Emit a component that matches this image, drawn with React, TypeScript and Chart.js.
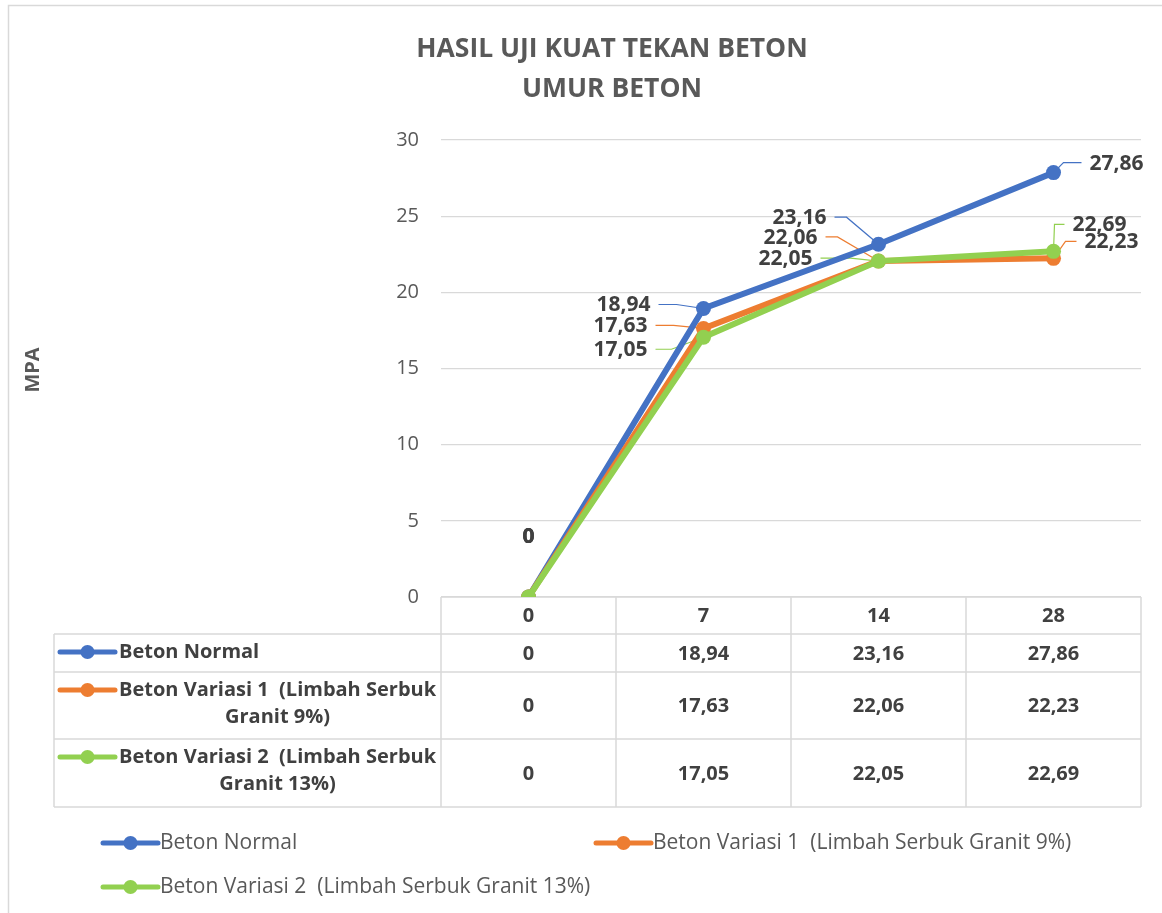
import React, { useEffect, useRef } from "react";
import { Chart, registerables } from "chart.js";

Chart.register(...registerables);

// ---------- data ----------
const categories = ["0", "7", "14", "28"];
const seriesNames = [
  "Beton Normal",
  "Beton Variasi 1  (Limbah Serbuk Granit 9%)",
  "Beton Variasi 2  (Limbah Serbuk Granit 13%)",
];
const betonNormal = [0, 18.94, 23.16, 27.86];
const betonVariasi1 = [0, 17.63, 22.06, 22.23];
const betonVariasi2 = [0, 17.05, 22.05, 22.69];
const yTickValues = [0, 5, 10, 15, 20, 25, 30];
const chartTitle = ["HASIL UJI KUAT TEKAN BETON", "UMUR BETON"];
const yAxisTitle = "MPA";

// ---------- styles ----------
const seriesValues = [betonNormal, betonVariasi1, betonVariasi2];
const colors = ["#4472C4", "#ED7D31", "#92D050"];
const FONT = "'Open Sans', 'Noto Sans', sans-serif";
const TITLE_FONT = "'Open Sans', 'Noto Sans', sans-serif";
const GRID = "#d9d9d9";
const DARK = "#404040";
const GREY = "#595959";

// label placement relative to point: [dx, dy, leaderLength]
const labelPlacement = [
  [[0, -60, 0], [-80, -3, 18], [-79, -26, 12], [63, -9, 18]],
  [[0, -60, 0], [-83, -2, 18], [-88, -23, 12], [58, -16, 11]],
  [[0, -60, 0], [-83, 13, 16], [-93, -2, 30], [46, -26, 10]],
];

const fmt = (v: number) =>
  Number.isInteger(v) ? String(v) : v.toFixed(2).replace(".", ",");

function wrap(ctx: CanvasRenderingContext2D, text: string, maxW: number) {
  const words = text.split(" ");
  const lines: string[] = [];
  let cur = "";
  for (let i = 0; i < words.length; i++) {
    const w = words[i];
    const test = cur === "" ? w : cur + " " + w;
    if (ctx.measureText(test).width > maxW && cur.trim() !== "") {
      lines.push(cur);
      cur = w;
    } else {
      cur = test;
    }
  }
  if (cur !== "") lines.push(cur);
  return lines;
}

function drawMarker(ctx: CanvasRenderingContext2D, x0: number, x1: number, y: number, color: string) {
  ctx.save();
  ctx.strokeStyle = color;
  ctx.lineWidth = 5;
  ctx.lineCap = "round";
  ctx.beginPath();
  ctx.moveTo(x0, y);
  ctx.lineTo(x1, y);
  ctx.stroke();
  ctx.fillStyle = color;
  ctx.beginPath();
  ctx.arc((x0 + x1) / 2, y, 7, 0, Math.PI * 2);
  ctx.fill();
  ctx.restore();
}

const excelPlugin = {
  id: "excelExtras",
  beforeDraw(chart: any) {
    const ctx: CanvasRenderingContext2D = chart.ctx;
    ctx.save();
    ctx.fillStyle = "#ffffff";
    ctx.fillRect(0, 0, chart.width, chart.height);
    // frame
    ctx.strokeStyle = GRID;
    ctx.lineWidth = 1.5;
    ctx.beginPath();
    ctx.moveTo(8.5, chart.height);
    ctx.lineTo(8.5, 5.5);
    ctx.lineTo(chart.width, 5.5);
    ctx.stroke();
    // title
    ctx.fillStyle = GREY;
    ctx.font = `bold 26.5px ${TITLE_FONT}`;
    ctx.textAlign = "center";
    ctx.textBaseline = "middle";
    ctx.fillText(chartTitle[0], 612, 49);
    ctx.fillText(chartTitle[1], 612, 89);
    // y-axis title
    ctx.save();
    ctx.translate(33, 370);
    ctx.rotate(-Math.PI / 2);
    ctx.font = `bold 20px ${FONT}`;
    ctx.fillText(yAxisTitle, 0, 0);
    ctx.restore();
    ctx.restore();
  },
  beforeDatasetsDraw(chart: any) {
    const ctx: CanvasRenderingContext2D = chart.ctx;
    const xs = chart.scales.x;
    const area = chart.chartArea;
    const n = categories.length;
    const colW = (area.right - area.left) / n;
    const tableLeft = 54;
    const rows = [area.bottom, 634, 672, 739, 807];
    ctx.save();
    ctx.strokeStyle = GRID;
    ctx.lineWidth = 1.5;
    // horizontal lines
    ctx.beginPath();
    ctx.moveTo(area.left, rows[0]);
    ctx.lineTo(area.right, rows[0]);
    for (let r = 1; r < rows.length; r++) {
      ctx.moveTo(tableLeft, rows[r]);
      ctx.lineTo(area.right, rows[r]);
    }
    // vertical lines
    ctx.moveTo(tableLeft, rows[1]);
    ctx.lineTo(tableLeft, rows[4]);
    for (let c = 0; c <= n; c++) {
      const x = area.left + c * colW;
      ctx.moveTo(x, rows[0]);
      ctx.lineTo(x, rows[4]);
    }
    ctx.stroke();

    ctx.fillStyle = DARK;
    ctx.font = `bold 20px ${FONT}`;
    ctx.textAlign = "center";
    ctx.textBaseline = "middle";
    categories.forEach((c, i) => {
      const x = xs.getPixelForValue(i);
      ctx.fillText(c, x, (rows[0] + rows[1]) / 2 + 1);
      seriesValues.forEach((vals, s) => {
        ctx.fillText(fmt(vals[i]), x, (rows[s + 1] + rows[s + 2]) / 2 + 1);
      });
    });
    // series names with markers
    seriesNames.forEach((name, s) => {
      const top = rows[s + 1];
      const lines = wrap(ctx, name, 322);
      const y0 = top + 18;
      drawMarker(ctx, 60, 115, y0, colors[s]);
      ctx.fillStyle = DARK;
      ctx.textAlign = "left";
      ctx.fillText(lines[0], 119, y0);
      const w0 = ctx.measureText(lines[0]).width;
      const cx = 119 + w0 / 2;
      ctx.textAlign = "center";
      for (let l = 1; l < lines.length; l++) {
        ctx.fillText(lines[l], cx, y0 + l * 27);
      }
    });

    // leader lines
    chart.data.datasets.forEach((ds: any, s: number) => {
      const meta = chart.getDatasetMeta(s);
      ctx.font = `bold 21px ${FONT}`;
      meta.data.forEach((pt: any, i: number) => {
        const [dx, dy, len] = labelPlacement[s][i];
        if (!len) return;
        const text = fmt(ds.data[i]);
        const w = ctx.measureText(text).width;
        const lx = pt.x + dx;
        const ly = pt.y + dy;
        ctx.strokeStyle = colors[s];
        ctx.lineWidth = 1.2;
        ctx.beginPath();
        if (dx < 0) {
          const sx = lx + w / 2 + 8;
          ctx.moveTo(sx, ly - 1);
          ctx.lineTo(sx + len, ly - 1);
          ctx.lineTo(pt.x, pt.y);
        } else {
          const ex = lx - w / 2 - 8;
          ctx.moveTo(pt.x, pt.y);
          ctx.lineTo(ex - len, ly - 1);
          ctx.lineTo(ex, ly - 1);
        }
        ctx.stroke();
      });
    });
    ctx.restore();
  },
  afterDatasetsDraw(chart: any) {
    const ctx: CanvasRenderingContext2D = chart.ctx;
    ctx.save();
    ctx.fillStyle = DARK;
    ctx.font = `bold 21px ${FONT}`;
    ctx.textAlign = "center";
    ctx.textBaseline = "middle";
    chart.data.datasets.forEach((ds: any, s: number) => {
      const meta = chart.getDatasetMeta(s);
      meta.data.forEach((pt: any, i: number) => {
        const [dx, dy] = labelPlacement[s][i];
        ctx.fillText(fmt(ds.data[i]), pt.x + dx, pt.y + dy);
      });
    });
    ctx.restore();
  },
  afterDraw(chart: any) {
    const ctx: CanvasRenderingContext2D = chart.ctx;
    ctx.save();
    ctx.font = `21px ${FONT}`;
    ctx.fillStyle = GREY;
    ctx.textAlign = "left";
    ctx.textBaseline = "middle";
    const legendPos = [
      [103, 843],
      [596, 843],
      [103, 887],
    ];
    seriesNames.forEach((name, s) => {
      const [x, y] = legendPos[s];
      drawMarker(ctx, x, x + 55, y, colors[s]);
      ctx.fillStyle = GREY;
      ctx.fillText(name, x + 57, y);
    });
    ctx.restore();
  },
};

export default function App() {
  const ref = useRef<HTMLCanvasElement | null>(null);
  useEffect(() => {
    if (!ref.current) return;
    const chart = new Chart(ref.current, {
      type: "line",
      data: {
        labels: categories,
        datasets: seriesValues.map((vals, i) => ({
          label: seriesNames[i],
          data: vals,
          borderColor: colors[i],
          backgroundColor: colors[i],
          pointBackgroundColor: colors[i],
          pointBorderColor: colors[i],
          borderWidth: 6,
          pointRadius: 7.5,
          pointHoverRadius: 7.5,
          pointBorderWidth: 0,
          tension: 0,
          order: 2 - i,
        })),
      },
      options: {
        responsive: false,
        animation: false,
        devicePixelRatio: 1,
        layout: { padding: { left: 381, right: 21, top: 140, bottom: 316 } },
        plugins: {
          legend: { display: false },
          title: { display: false },
          tooltip: { enabled: false },
        },
        scales: {
          x: { type: "category", offset: true, display: false },
          y: {
            min: 0,
            max: 30,
            afterBuildTicks: (scale: any) => {
              scale.ticks = yTickValues.map((v) => ({ value: v }));
            },
            afterFit: (scale: any) => {
              scale.width = 60;
            },
            ticks: {
              padding: 22,
              color: GREY,
              font: { family: FONT, size: 20 },
            },
            grid: { color: GRID, lineWidth: 1.3, drawTicks: false },
            border: { display: false },
          },
        },
      },
      plugins: [excelPlugin],
    } as any);
    return () => chart.destroy();
  }, []);
  return (
    <canvas
      ref={ref}
      width={1162}
      height={913}
      style={{ position: "fixed", left: 0, top: 0, width: 1162, height: 913 }}
    />
  );
}
